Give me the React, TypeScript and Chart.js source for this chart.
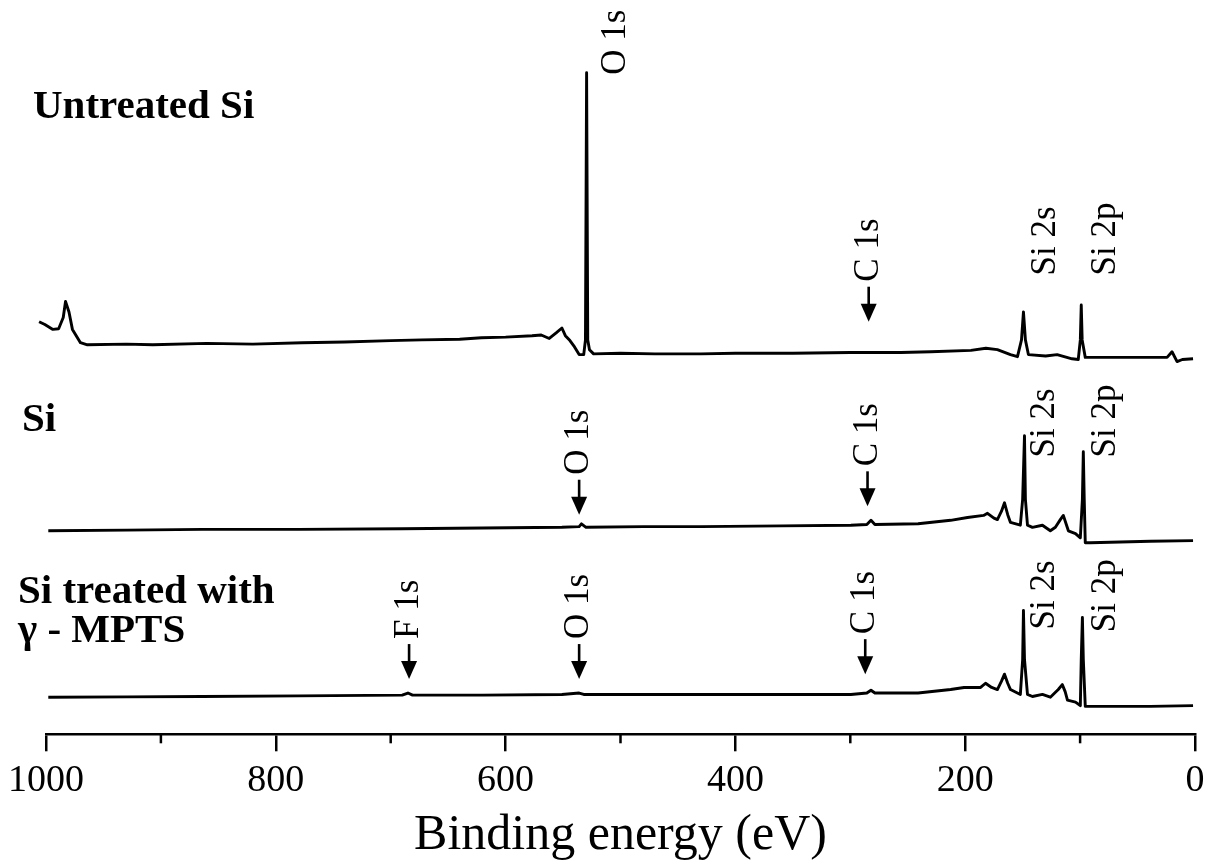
import React, { useEffect, useRef } from 'react';
import { Chart, registerables } from 'chart.js';

Chart.register(...registerables);

const FONT = '"Liberation Serif", "DejaVu Serif", "Times New Roman", serif';

// ---- axis ----
const tickValues = [1000, 900, 800, 700, 600, 500, 400, 300, 200, 100, 0];
const labelledTicks = [1000, 800, 600, 400, 200, 0];
const axisTitle = 'Binding energy (eV)';

// ---- spectrum 1 : Untreated Si ----
const untreatedEnergy = [1006, 1001, 994, 989, 985, 983, 980, 977, 970, 964, 930, 907, 860, 820, 777, 740, 700, 673, 640, 621, 600, 577, 569, 562, 556, 551, 548, 544, 540, 536, 532, 530.5, 529.5, 528.5, 527, 523.4, 500, 470, 430, 400, 350, 300, 256, 230, 195, 182, 172, 160.6, 154.5, 151, 149.3, 147.6, 145, 130, 120, 107, 101.6, 99.8, 99, 98.2, 95.5, 70, 47.7, 24.3, 20, 15.6, 11, 1.7];
const untreatedCounts = [59.0, 58.6, 57.9, 58.0, 59.6, 61.9, 60.4, 57.9, 56.0, 55.7, 55.8, 55.7, 55.9, 55.8, 56.0, 56.1, 56.3, 56.4, 56.5, 56.7, 56.8, 57.0, 57.1, 56.6, 57.4, 58.1, 57.0, 56.3, 55.4, 54.3, 54.3, 56.4, 94.6, 56.4, 55.0, 54.4, 54.5, 54.4, 54.4, 54.5, 54.5, 54.6, 54.6, 54.7, 54.9, 55.2, 55.0, 54.3, 54.0, 56.4, 60.4, 56.4, 54.3, 54.1, 54.3, 53.7, 53.6, 56.4, 61.4, 56.4, 53.9, 53.9, 53.9, 53.9, 54.7, 53.3, 53.6, 53.7];

// ---- spectrum 2 : Si ----
const siEnergy = [998, 930, 864, 780, 690, 620, 551, 536, 534, 530, 480, 430, 360, 299.5, 285.6, 282, 278.6, 241, 212.7, 198, 184, 180.6, 175, 172, 168.4, 165.8, 163, 160.6, 152, 150, 148.4, 147.6, 145.8, 141.5, 132.8, 125.9, 121.5, 117.2, 114.6, 112, 110.2, 104, 99.8, 98, 97.2, 96.4, 95.5, 91, 39, 1.7];
const siCounts = [29.1, 29.2, 29.3, 29.3, 29.4, 29.5, 29.6, 29.7, 30.1, 29.6, 29.7, 29.7, 29.8, 29.9, 30.0, 30.6, 30.0, 30.1, 30.6, 31.0, 31.3, 31.6, 30.9, 30.7, 31.9, 33.1, 31.4, 30.3, 29.9, 33.6, 42.7, 33.6, 29.9, 29.6, 29.9, 29.1, 29.6, 30.7, 31.3, 30.0, 29.1, 28.7, 28.1, 33.6, 40.4, 33.6, 27.4, 27.4, 27.6, 27.7];

// ---- spectrum 3 : Si treated with γ-MPTS ----
const mptsEnergy = [998, 930, 864, 780, 690, 685, 681, 620, 551, 536, 532, 480, 430, 360, 299.5, 285.6, 282, 278.6, 241, 212.7, 201, 186.6, 182.3, 177, 172, 168.4, 165.8, 163, 160.6, 152, 150, 149.3, 148.4, 145.8, 141.5, 132.8, 125.9, 119, 115.5, 113, 111, 104, 99.8, 99, 98, 97.2, 95.5, 39, 1.7];
const mptsCounts = [5.3, 5.35, 5.4, 5.5, 5.6, 5.9, 5.6, 5.6, 5.7, 5.9, 5.7, 5.7, 5.7, 5.7, 5.7, 5.9, 6.3, 5.9, 5.9, 6.4, 6.7, 6.7, 7.3, 6.7, 6.4, 7.6, 8.6, 7.3, 6.4, 5.7, 10.7, 17.7, 10.7, 5.7, 5.4, 5.7, 5.3, 6.4, 7.1, 6.1, 4.9, 4.6, 4.1, 10.7, 16.7, 10.7, 4.0, 4.0, 4.1];

// ---- peak labels: text, energy (eV), level (intensity units), arrow ----
const peakText = ['O 1s', 'C 1s', 'Si 2s', 'Si 2p', 'O 1s', 'C 1s', 'Si 2s', 'Si 2p', 'F 1s', 'O 1s', 'C 1s', 'Si 2s', 'Si 2p'];
const peakEnergy = [504, 284, 130, 78, 536, 285, 131, 78, 684, 536, 287, 131, 78];
const peakLevel = [94.3, 59.0, 65.6, 65.6, 31.4, 32.6, 39.6, 39.6, 7.9, 7.9, 8.6, 15.0, 14.6];
const peakArrow = [false, true, false, false, true, true, false, false, true, true, true, false, false];

// ---- sample names ----
const sampleNames = [['Untreated Si'], ['Si'], ['Si treated with', 'γ - MPTS']];

const toPoints = (e: number[], c: number[]) => e.map((x, i) => ({ x, y: c[i] }));

const annotate = {
  id: 'annotate',
  beforeDraw(chart: any) {
    const { ctx, width, height } = chart;
    ctx.save();
    ctx.fillStyle = '#fff';
    ctx.fillRect(0, 0, width, height);
    ctx.restore();
  },
  afterDraw(chart: any) {
    const { ctx } = chart;
    const xs = chart.scales.x;
    const ys = chart.scales.y;
    ctx.save();
    ctx.strokeStyle = '#000';
    ctx.fillStyle = '#000';
    // minor ticks
    ctx.lineWidth = 2.5;
    tickValues.forEach((v) => {
      if (labelledTicks.includes(v)) return;
      const px = xs.getPixelForValue(v);
      ctx.beginPath();
      ctx.moveTo(px, xs.top);
      ctx.lineTo(px, xs.top + 9);
      ctx.stroke();
    });
    // peak labels
    ctx.font = `35px ${FONT}`;
    peakText.forEach((t, i) => {
      const px = xs.getPixelForValue(peakEnergy[i]);
      let py = ys.getPixelForValue(peakLevel[i]);
      if (peakArrow[i]) {
        const tip = py;
        const head = 18;
        const len = 35;
        ctx.lineWidth = 2.6;
        ctx.beginPath();
        ctx.moveTo(px, tip - len);
        ctx.lineTo(px, tip - head + 2);
        ctx.stroke();
        ctx.beginPath();
        ctx.moveTo(px - 8, tip - head);
        ctx.lineTo(px + 8, tip - head);
        ctx.lineTo(px, tip);
        ctx.closePath();
        ctx.fill();
        py = tip - len - 5;
      }
      ctx.save();
      ctx.translate(px, py);
      ctx.rotate(-Math.PI / 2);
      ctx.textAlign = 'left';
      ctx.textBaseline = 'middle';
      ctx.fillText(t, 0, 0);
      ctx.restore();
    });
    // sample names
    ctx.font = `bold 41px ${FONT}`;
    ctx.textAlign = 'left';
    ctx.textBaseline = 'alphabetic';
    const pos = [
      [33, [118]],
      [22, [431]],
      [18, [603, 642]],
    ] as [number, number[]][];
    sampleNames.forEach((lines, i) => {
      lines.forEach((l, j) => ctx.fillText(l, pos[i][0], pos[i][1][j]));
    });
    ctx.restore();
  },
};

export default function App() {
  const ref = useRef<HTMLCanvasElement>(null);
  useEffect(() => {
    document.body.style.margin = '0';
    const lineStyle = {
      borderColor: '#000',
      borderWidth: 2.9,
      pointRadius: 0,
      tension: 0,
      fill: false,
      clip: false as any,
      borderJoinStyle: 'round' as const,
    };
    const chart = new Chart(ref.current!, {
      type: 'line',
      data: {
        datasets: [
          { label: 'Untreated Si', data: toPoints(untreatedEnergy, untreatedCounts), ...lineStyle },
          { label: 'Si', data: toPoints(siEnergy, siCounts), ...lineStyle },
          { label: 'Si treated with γ-MPTS', data: toPoints(mptsEnergy, mptsCounts), ...lineStyle },
        ],
      },
      options: {
        animation: false,
        responsive: false,
        layout: { padding: { left: 43, right: 22, top: 35, bottom: 0 } },
        plugins: { legend: { display: false }, tooltip: { enabled: false } },
        scales: {
          x: {
            type: 'linear',
            reverse: true,
            min: 0,
            max: 1000,
            afterBuildTicks: (scale: any) => {
              scale.ticks = tickValues.map((v) => ({ value: v }));
            },
            ticks: {
              autoSkip: false,
              maxRotation: 0,
              padding: 8,
              color: '#000',
              font: { family: FONT, size: 38, lineHeight: 1.15 },
              callback: (v: any) => (labelledTicks.includes(Number(v)) ? String(v) : ''),
            },
            grid: {
              drawOnChartArea: false,
              drawTicks: true,
              tickLength: 17,
              lineWidth: 2.5,
              tickColor: (c: any) => (c.tick && labelledTicks.includes(c.tick.value) ? '#000' : 'rgba(0,0,0,0)'),
            },
            border: { display: true, color: '#000', width: 2.5 },
            title: {
              display: true,
              text: axisTitle,
              color: '#000',
              font: { family: FONT, size: 50, lineHeight: 1 },
              padding: { top: 0, bottom: 6 },
            },
          },
          y: { type: 'linear', display: false, min: 0, max: 100 },
        },
      },
      plugins: [annotate],
    });
    return () => chart.destroy();
  }, []);
  return (
    <div style={{ width: 1217, height: 867 }}>
      <canvas ref={ref} width={1217} height={867} style={{ display: 'block' }} />
    </div>
  );
}
